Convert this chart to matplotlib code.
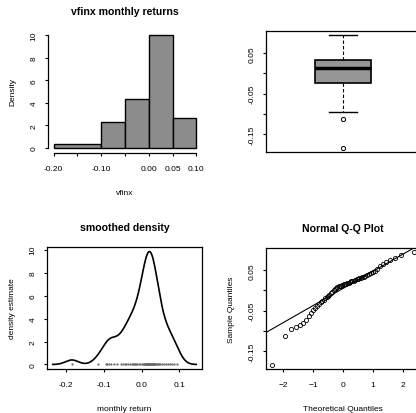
import numpy as np
import matplotlib
matplotlib.use('Agg')
import matplotlib.pyplot as plt
import seaborn as sns
from statistics import NormalDist

# vfinx monthly returns (60 months, sorted), boxplot and histogram
vfinx = np.array([
    -0.184, -0.114,
    -0.095, -0.090, -0.085, -0.080, -0.074, -0.064, -0.055,
    -0.048, -0.044, -0.040, -0.035, -0.030, -0.026, -0.023, -0.020, -0.017,
    -0.014, -0.011, -0.007, -0.003,
    0.002, 0.004, 0.006, 0.008, 0.010, 0.011, 0.012, 0.014, 0.015, 0.016,
    0.017, 0.018, 0.019, 0.020, 0.022, 0.023, 0.024, 0.026, 0.027, 0.029,
    0.030, 0.031, 0.033, 0.034, 0.036, 0.038, 0.041, 0.043, 0.046, 0.049,
    0.054, 0.060, 0.065, 0.070, 0.075, 0.080, 0.087, 0.094,
])

hist_breaks = [-0.20, -0.10, -0.05, 0.00, 0.05, 0.10]
hist_ticks = [-0.20, -0.15, -0.10, -0.05, 0.00, 0.05, 0.10]
hist_labels = ['-0.20', '', '-0.10', '', '0.00', '0.05', '0.10']
dens_yticks = [0, 2, 4, 6, 8, 10]
ret_ticks = [-0.15, -0.10, -0.05, 0.00, 0.05]
ret_labels = ['-0.15', '', '-0.05', '', '0.05']
dens_xticks = [-0.2, -0.1, 0.0, 0.1]
dens_xlabels = ['-0.2', '-0.1', '0.0', '0.1']
qq_xticks = [-2, -1, 0, 1, 2]

plt.rcParams['font.family'] = ['Liberation Sans', 'DejaVu Sans']
plt.rcParams['xtick.labelsize'] = 6
plt.rcParams['ytick.labelsize'] = 6
plt.rcParams['xtick.major.size'] = 2.5
plt.rcParams['ytick.major.size'] = 2.5
plt.rcParams['xtick.major.pad'] = 6.5
plt.rcParams['ytick.major.pad'] = 5
plt.rcParams['axes.linewidth'] = 0.9


def rlim(lo, hi):
    # R style 4% axis extension
    d = (hi - lo) * 0.04
    return lo - d, hi + d


W, H = 416, 414


def place(x0, y0, x1, y1):
    return [x0 / W, 1 - y1 / H, (x1 - x0) / W, (y1 - y0) / H]


fig = plt.figure(figsize=(4.16, 4.14), dpi=100)
ax1 = fig.add_axes(place(48, 31.5, 202, 153.5))
ax2 = fig.add_axes(place(266, 32, 420, 153))
ax3 = fig.add_axes(place(47, 248, 202, 370))
ax4 = fig.add_axes(place(266, 249, 420, 370))

title_kw = dict(fontsize=7.6, fontweight='bold', pad=12)
lab_kw = dict(fontsize=6)

# histogram
ax1.hist(vfinx, bins=hist_breaks, density=True, color='#8c8c8c',
         edgecolor='black', linewidth=1.0)
ax1.set_xlim(*rlim(hist_breaks[0], hist_breaks[-1]))
ax1.set_ylim(*rlim(0, 10))
for s in ['top', 'right']:
    ax1.spines[s].set_visible(False)
ax1.spines['bottom'].set_bounds(hist_breaks[0], hist_breaks[-1])
ax1.spines['left'].set_bounds(0, 10)
ax1.set_xticks(hist_ticks)
ax1.set_xticklabels(hist_labels)
ax1.set_yticks(dens_yticks)
ax1.set_yticklabels([str(v) for v in dens_yticks], rotation=90, va='center')
ax1.set_title('vfinx monthly returns', **title_kw)
ax1.set_xlabel('vfinx', labelpad=12, **lab_kw)
ax1.set_ylabel('Density', labelpad=10, **lab_kw)

# boxplot
ax2.boxplot(vfinx, positions=[1], widths=0.37, patch_artist=True,
            boxprops=dict(facecolor='#969696', edgecolor='black', linewidth=1.2),
            medianprops=dict(color='black', linewidth=2.5),
            whiskerprops=dict(color='black', linewidth=0.8, linestyle=(0, (3, 2))),
            capprops=dict(color='black', linewidth=1.0),
            flierprops=dict(marker='o', markersize=3, markerfacecolor='none',
                            markeredgecolor='black', markeredgewidth=0.7))
ax2.set_xlim(0.5, 1.5)
ax2.set_ylim(*rlim(vfinx.min(), vfinx.max()))
ax2.set_xticks([])
ax2.set_yticks(ret_ticks)
ax2.set_yticklabels(ret_labels, rotation=90, va='center')

# smoothed density (R's bw.nrd0 bandwidth)
sd = vfinx.std(ddof=1)
iqr = np.subtract(*np.percentile(vfinx, [75, 25]))
bw = 0.9 * min(sd, iqr / 1.34) * len(vfinx) ** -0.2
sns.kdeplot(x=vfinx, bw_method=bw / sd, cut=3, gridsize=512, ax=ax3,
            color='black', linewidth=1.2)
kx = ax3.lines[0].get_xdata()
ky = ax3.lines[0].get_ydata()
ax3.plot(vfinx, np.zeros_like(vfinx), linestyle='none', marker='.',
         markersize=1.2, color='#666666')
ax3.set_xlim(*rlim(kx.min(), kx.max()))
ax3.set_ylim(*rlim(0, ky.max()))
ax3.set_xticks(dens_xticks)
ax3.set_xticklabels(dens_xlabels)
ax3.set_yticks(dens_yticks)
ax3.set_yticklabels([str(v) for v in dens_yticks], rotation=90, va='center')
ax3.set_title('smoothed density', **title_kw)
ax3.set_xlabel('monthly return', labelpad=12, **lab_kw)
ax3.set_ylabel('density estimate', labelpad=10, **lab_kw)

# normal Q-Q plot
n = len(vfinx)
theo = np.array([NormalDist().inv_cdf((i + 0.5) / n) for i in range(n)])
samp = np.sort(vfinx)
ax4.plot(theo, samp, linestyle='none', marker='o', markersize=3,
         markerfacecolor='none', markeredgecolor='black', markeredgewidth=0.6)
q1, q3 = np.percentile(vfinx, [25, 75])
z1, z3 = NormalDist().inv_cdf(0.25), NormalDist().inv_cdf(0.75)
slope = (q3 - q1) / (z3 - z1)
icpt = q1 - slope * z1
ax4.axline((0, icpt), slope=slope, color='black', linewidth=0.8)
ax4.set_xlim(*rlim(theo.min(), theo.max()))
ax4.set_ylim(*rlim(samp.min(), samp.max()))
ax4.set_xticks(qq_xticks)
ax4.set_yticks(ret_ticks)
ax4.set_yticklabels(ret_labels, rotation=90, va='center')
ax4.set_title('Normal Q-Q Plot', **title_kw)
ax4.set_xlabel('Theoretical Quantiles', labelpad=12, **lab_kw)
ax4.set_ylabel('Sample Quantiles', labelpad=10, **lab_kw)

fig.savefig('out.png', dpi=100)
